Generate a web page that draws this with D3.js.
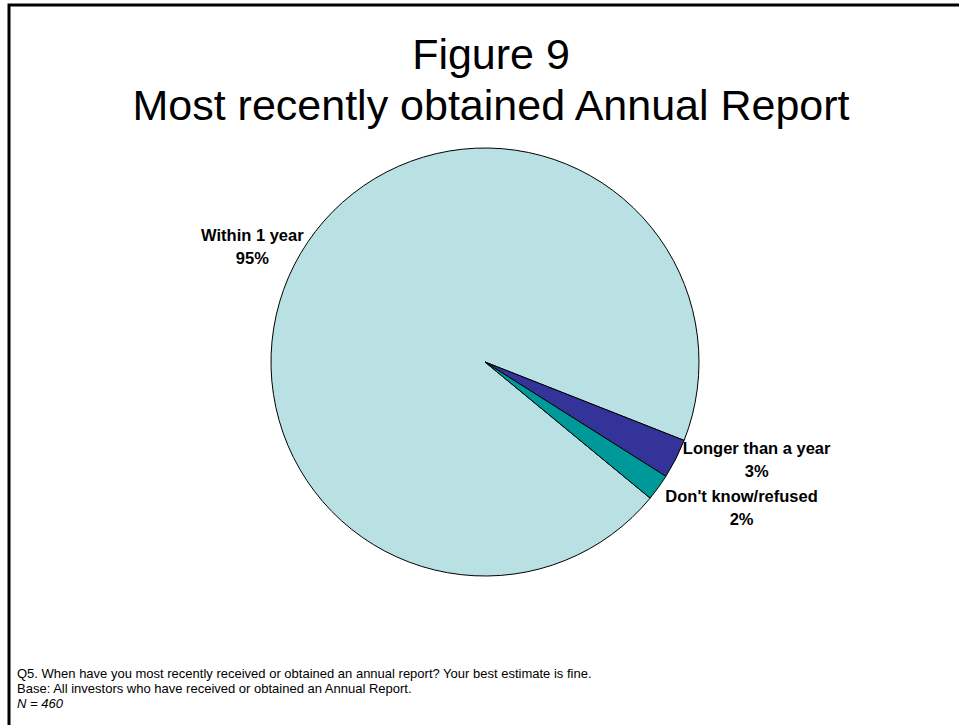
<!DOCTYPE html>
<html>
<head>
<meta charset="utf-8">
<script src="https://cdn.jsdelivr.net/npm/d3@7"></script>
<style>
  body { margin: 0; background: #fff; }
  svg { display: block; font-family: "Liberation Sans", Arial, sans-serif; }
</style>
</head>
<body>
<svg id="chart" width="959" height="725"></svg>
<script>
// data
const categories = ["Within 1 year", "Longer than a year", "Don't know/refused"];
const values = [95, 3, 2];
const sliceColors = ["#b9e0e3", "#333399", "#009999"];
const titleLines = ["Figure 9", "Most recently obtained Annual Report"];
const notes = [
  "Q5. When have you most recently received or obtained an annual report? Your best estimate is fine.",
  "Base: All investors who have received or obtained an Annual Report.",
  "N = 460"
];

const svg = d3.select("#chart");

// frame (top and left edges visible, runs off page right/bottom)
svg.append("rect")
  .attr("x", 9)
  .attr("y", 5)
  .attr("width", 980)
  .attr("height", 760)
  .attr("fill", "none")
  .attr("stroke", "#000")
  .attr("stroke-width", 3);

// title
svg.append("g")
  .selectAll("text")
  .data(titleLines)
  .join("text")
  .attr("x", 491)
  .attr("y", (d, i) => 69 + i * 51)
  .attr("text-anchor", "middle")
  .attr("font-size", "43px")
  .attr("fill", "#000")
  .text(d => d);

// pie
const cx = 485, cy = 362, radius = 214;
const startDeg = 129.5;
const pie = d3.pie()
  .sort(null)
  .value(d => d)
  .startAngle(startDeg * Math.PI / 180)
  .endAngle(startDeg * Math.PI / 180 + 2 * Math.PI);

const arcs = pie(values);
const arc = d3.arc().innerRadius(0).outerRadius(radius);

const pieGroup = svg.append("g").attr("transform", `translate(${cx},${cy})`);

pieGroup.selectAll("path")
  .data(arcs)
  .join("path")
  .attr("d", arc)
  .attr("fill", (d, i) => sliceColors[i])
  .attr("stroke", "#000")
  .attr("stroke-width", 1)
  .attr("stroke-linejoin", "round");

// labels - placed just outside the slice edge, pushed down if they overlap
const lineH = 23;
const labelGroup = pieGroup.append("g")
  .attr("font-size", "16.5px")
  .attr("font-weight", "bold")
  .attr("text-anchor", "middle");

let lastBottom = -Infinity;
arcs.forEach((a, i) => {
  const mid = (a.startAngle + a.endAngle) / 2;
  const px = radius * Math.sin(mid);
  const py = -radius * Math.cos(mid);
  const lines = [categories[i], d3.format(".0f")(values[i]) + "%"];

  const t = labelGroup.append("text");
  t.selectAll("tspan")
    .data(lines)
    .join("tspan")
    .text(d => d);
  const w = d3.max(t.selectAll("tspan").nodes(), n => n.getComputedTextLength());
  const boxH = lines.length * lineH + 2;

  const side = Math.sin(mid) >= 0 ? 1 : -1;
  const pad = side > 0 ? 7 : -3;
  let vc = py * (1 + 8 / radius) - 2.5;
  if (side > 0 && vc - boxH / 2 < lastBottom) vc = lastBottom + boxH / 2;
  if (side > 0) lastBottom = vc + boxH / 2;
  const xc = px + side * (pad + w / 2);

  // vc is the visual middle: cap top of line 1 to baseline of last line
  t.selectAll("tspan")
    .attr("x", xc)
    .attr("y", (d, j) => vc - 5.5 + j * lineH);
});

// footnote
svg.append("g")
  .selectAll("text")
  .data(notes)
  .join("text")
  .attr("x", 17)
  .attr("y", (d, i) => 678 + i * 15)
  .attr("font-size", "13px")
  .attr("font-style", (d, i) => i === 2 ? "italic" : "normal")
  .text(d => d);
</script>
</body>
</html>
